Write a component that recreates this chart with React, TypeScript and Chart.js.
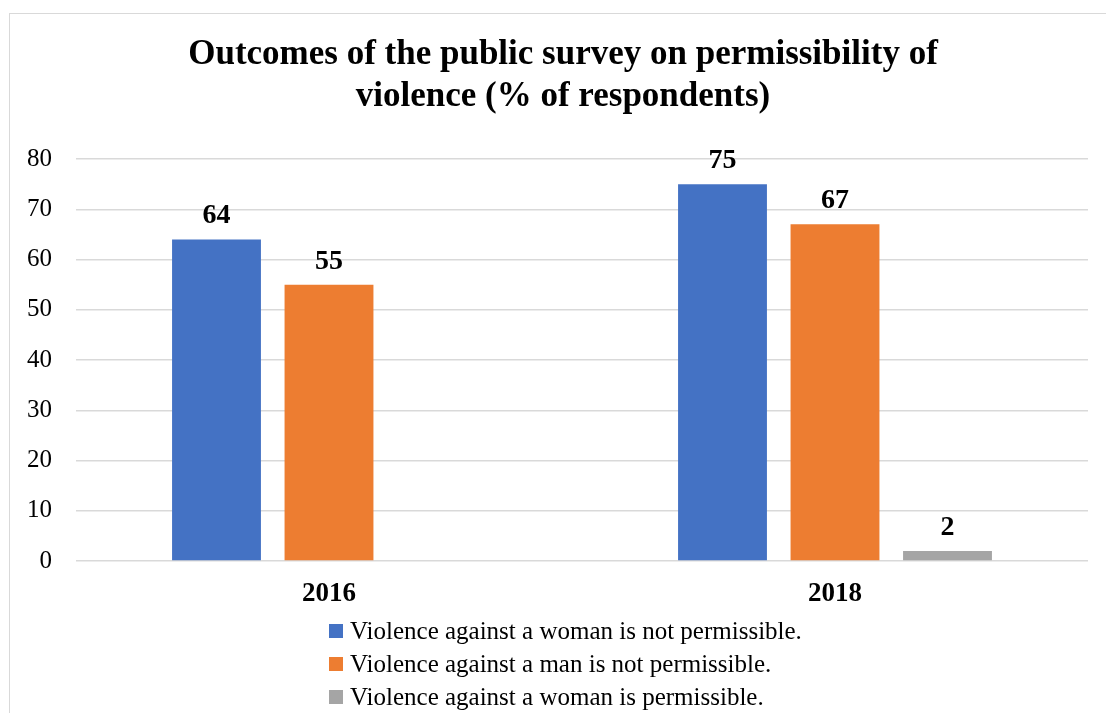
import React, { useEffect, useRef } from "react";
import { Chart, registerables } from "chart.js";

Chart.register(...registerables);

const titleLines = ["Outcomes of the public survey on permissibility of", "violence (% of respondents)"];
const categories = ["2016", "2018"];
const seriesLabels = [
  "Violence against a woman is not permissible.",
  "Violence against a man is not permissible.",
  "Violence against a woman is permissible.",
];
const womanNotPermissible = [64, 75];
const manNotPermissible = [55, 67];
const womanPermissible: (number | null)[] = [null, 2];
const seriesColors = ["#4472C4", "#ED7D31", "#A5A5A5"];
const yTicks = [0, 10, 20, 30, 40, 50, 60, 70, 80];

const FONT = "'Liberation Serif', 'Times New Roman', serif";

const titlePlugin = {
  id: "customTitle",
  afterDraw(chart: any) {
    const ctx = chart.ctx;
    ctx.save();
    ctx.fillStyle = "#000";
    ctx.font = `bold 35px ${FONT}`;
    ctx.textAlign = "center";
    ctx.textBaseline = "middle";
    const cx = chart.width / 2 + 10;
    titleLines.forEach((line, i) => {
      ctx.fillText(line, cx, 55 + i * 42);
    });
    ctx.restore();
  },
};

const valueLabelPlugin = {
  id: "valueLabels",
  afterDatasetsDraw(chart: any) {
    const ctx = chart.ctx;
    ctx.save();
    ctx.fillStyle = "#000";
    ctx.font = `bold 28px ${FONT}`;
    ctx.textAlign = "center";
    ctx.textBaseline = "alphabetic";
    chart.data.datasets.forEach((ds: any, di: number) => {
      const meta = chart.getDatasetMeta(di);
      meta.data.forEach((el: any, i: number) => {
        const v = ds.data[i];
        if (v === null || v === undefined) return;
        ctx.fillText(String(v), el.x, el.y - 16);
      });
    });
    ctx.restore();
  },
};

const legendPlugin = {
  id: "customLegend",
  afterDraw(chart: any) {
    const ctx = chart.ctx;
    ctx.save();
    ctx.font = `25px ${FONT}`;
    ctx.textBaseline = "middle";
    ctx.textAlign = "left";
    const x0 = 329;
    const y0 = 631;
    const step = 33;
    chart.data.datasets.forEach((ds: any, i: number) => {
      const y = y0 + i * step;
      ctx.fillStyle = ds.backgroundColor;
      ctx.fillRect(x0, y - 7, 14, 14);
      ctx.fillStyle = "#000";
      ctx.fillText(ds.label, x0 + 21, y + 1);
    });
    ctx.restore();
  },
};

export default function App() {
  const canvasRef = useRef<HTMLCanvasElement | null>(null);

  useEffect(() => {
    if (!canvasRef.current) return;
    const chart = new Chart(canvasRef.current, {
      type: "bar",
      data: {
        labels: categories,
        datasets: [
          { label: seriesLabels[0], data: womanNotPermissible, backgroundColor: seriesColors[0] },
          { label: seriesLabels[1], data: manNotPermissible, backgroundColor: seriesColors[1] },
          { label: seriesLabels[2], data: womanPermissible, backgroundColor: seriesColors[2] },
        ],
      },
      options: {
        responsive: false,
        maintainAspectRatio: false,
        animation: false,
        layout: { padding: { left: 10, right: 18, top: 159, bottom: 92 } },
        datasets: {
          bar: { categoryPercentage: 0.667, barPercentage: 0.79, borderWidth: 0 },
        },
        plugins: {
          legend: { display: false },
          title: { display: false },
          tooltip: { enabled: false },
        },
        scales: {
          x: {
            grid: { display: false, drawTicks: false },
            border: { display: false },
            ticks: {
              color: "#000",
              padding: 17,
              font: { family: FONT, size: 27, weight: "bold" },
            },
            afterFit: (s: any) => {
              s.height = 60;
            },
          },
          y: {
            min: 0,
            max: 80,
            afterBuildTicks: (s: any) => {
              s.ticks = yTicks.map((v) => ({ value: v }));
            },
            grid: { color: "#D9D9D9", lineWidth: 1.5, drawTicks: false },
            border: { display: false },
            ticks: {
              color: "#000",
              padding: 24,
              font: { family: FONT, size: 25 },
            },
            afterFit: (s: any) => {
              s.width = 66;
            },
          },
        },
      },
      plugins: [titlePlugin, valueLabelPlugin, legendPlugin],
    } as any);
    return () => chart.destroy();
  }, []);

  return (
    <div style={{ position: "fixed", left: 0, top: 0, width: 1106, height: 713, overflow: "hidden", background: "#fff" }}>
      <div
        style={{
          position: "absolute",
          left: 9,
          top: 13,
          width: 1300,
          height: 900,
          border: "1.5px solid #D9D9D9",
          boxSizing: "border-box",
        }}
      />
      <canvas ref={canvasRef} width={1106} height={713} style={{ position: "absolute", left: 0, top: 0 }} />
    </div>
  );
}
